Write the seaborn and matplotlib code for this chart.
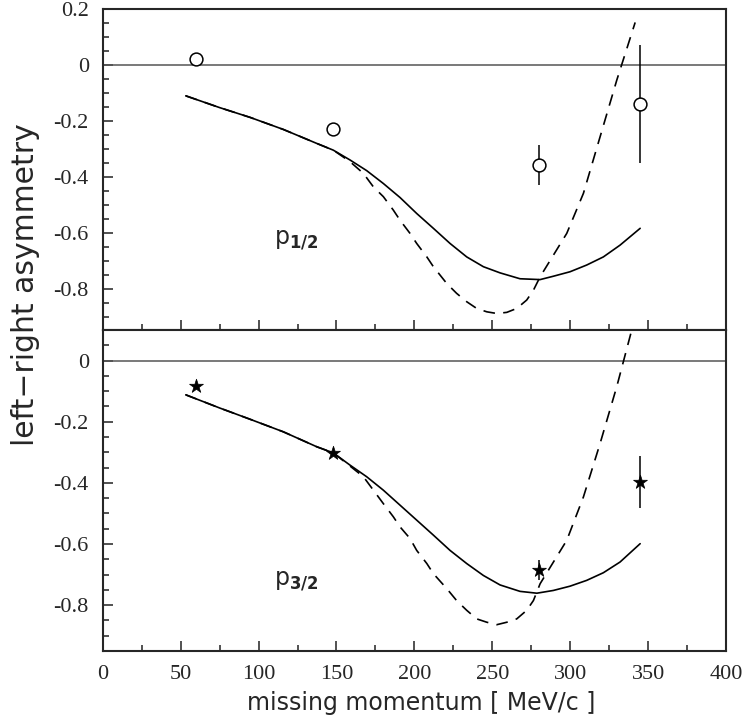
import numpy as np
import matplotlib
matplotlib.use("Agg")
import matplotlib.pyplot as plt
from matplotlib.ticker import MultipleLocator, FuncFormatter
import seaborn as sns

# p1/2 data (open circles)
p12_x = [60, 148, 280, 345]
p12_y = [0.02, -0.23, -0.357, -0.139]
p12_err = [0.0, 0.0, 0.07, 0.21]

# p3/2 data (stars)
p32_x = [60, 148, 280, 345]
p32_y = [-0.082, -0.302, -0.686, -0.397]
p32_err = [0.0, 0.0, 0.033, 0.084]

# p1/2 curves
p12_solid_x = [53.3, 75, 94.6, 115.9, 137.4, 148, 158.7, 169.4, 180.1, 190.8, 201.5, 212.2, 222.9, 233.6,
               244.3, 255, 267.8, 280.7, 289.2, 299.9, 310.6, 321.3, 332, 344.9]
p12_solid_y = [-0.11, -0.152, -0.187, -0.230, -0.280, -0.304, -0.339, -0.377, -0.423, -0.473, -0.530, -0.583, -0.637, -0.685,
               -0.720, -0.742, -0.763, -0.766, -0.754, -0.738, -0.714, -0.685, -0.643, -0.583]
p12_dash_x = [53.3, 75, 94.6, 115.9, 137.4, 148, 158.7, 167.3, 173.7, 180.1, 186.5, 190.8, 197.2, 201.5, 208, 212.2,
              220.8, 227.1, 233.6, 240, 246.5, 252.9, 259.3, 265.7, 272.1, 276.4, 280.7, 297.8, 308.5, 319.2, 329.9, 341.7]
p12_dash_y = [-0.11, -0.152, -0.187, -0.230, -0.280, -0.304, -0.345, -0.387, -0.435, -0.470, -0.518, -0.554, -0.601, -0.637, -0.685, -0.720,
              -0.780, -0.815, -0.845, -0.869, -0.881, -0.887, -0.883, -0.869, -0.839, -0.804, -0.756, -0.601, -0.458, -0.256, -0.054, 0.152]

# p3/2 curves
p32_solid_x = [53.3, 75, 94.6, 115.9, 137.4, 148, 158.7, 169.4, 180.1, 190.8, 201.5, 212.2, 222.9, 233.6,
               244.3, 255, 267.8, 278.6, 289.2, 299.9, 310.6, 321.3, 332, 344.9]
p32_solid_y = [-0.112, -0.155, -0.192, -0.233, -0.282, -0.302, -0.342, -0.380, -0.424, -0.473, -0.522, -0.571, -0.621, -0.664,
               -0.703, -0.734, -0.755, -0.761, -0.752, -0.738, -0.719, -0.694, -0.659, -0.599]
p32_dash_x = [53.3, 75, 94.6, 115.9, 137.4, 148, 158.7, 167.3, 173.7, 180.1, 186.5, 190.8, 197.2, 201.5, 208, 212.2,
              220.8, 227.1, 233.6, 240, 246.5, 252.9, 259.3, 265.7, 272.1, 276.4, 280.7, 297.8, 308.5, 319.2, 329.9, 339.5, 345]
p32_dash_y = [-0.112, -0.155, -0.192, -0.233, -0.282, -0.302, -0.345, -0.380, -0.424, -0.468, -0.511, -0.544, -0.582, -0.621, -0.664, -0.697,
              -0.746, -0.785, -0.817, -0.845, -0.856, -0.864, -0.856, -0.845, -0.817, -0.785, -0.730, -0.588, -0.446, -0.271, -0.085, 0.10, 0.22]

sns.set_style("ticks")
plt.rcParams['font.family'] = ['DejaVu Sans']

fig = plt.figure(figsize=(7.45, 7.25), dpi=100)
ax1 = fig.add_axes([0.1379, 0.5448, 0.8366, 0.4428])
ax2 = fig.add_axes([0.1379, 0.1021, 0.8366, 0.4427])


def fmt(v, pos):
    if abs(v) < 1e-9:
        return "0"
    return f"{v:.1f}"


def style(ax, ylim, show_xlabels):
    ax.set_xlim(0, 400)
    ax.set_ylim(*ylim)
    ax.axhline(0, color="#555555", lw=1.1, zorder=1)
    ax.xaxis.set_major_locator(MultipleLocator(50))
    ax.xaxis.set_minor_locator(MultipleLocator(25))
    ax.yaxis.set_major_locator(MultipleLocator(0.2))
    ax.yaxis.set_minor_locator(MultipleLocator(0.05))
    ax.yaxis.set_major_formatter(FuncFormatter(fmt))
    ax.tick_params(which="both", direction="in", top=False, right=False, width=1.2, color="#333333")
    ax.tick_params(which="major", length=7)
    ax.tick_params(which="minor", length=4)
    ax.tick_params(labelsize=16, pad=10)
    for lab in ax.get_xticklabels() + ax.get_yticklabels():
        lab.set_family("Liberation Serif")
    if not show_xlabels:
        ax.tick_params(axis="x", labelbottom=False)
    for s in ax.spines.values():
        s.set_linewidth(1.5)
        s.set_visible(True)
    ax.set_xlabel("")
    ax.set_ylabel("")


dash = (0, (7, 5))

# top panel
sns.lineplot(x=p12_solid_x, y=p12_solid_y, ax=ax1, color="black", lw=1.2, sort=False)
sns.lineplot(x=p12_dash_x, y=p12_dash_y, ax=ax1, color="black", lw=1.2, sort=False, linestyle=dash)
ax1.errorbar(p12_x, p12_y, yerr=p12_err, fmt="none", ecolor="black", elinewidth=1.1, capsize=0)
sns.scatterplot(x=p12_x, y=p12_y, ax=ax1, marker="o", s=85, facecolor="white", edgecolor="black",
                linewidth=1.1, zorder=5)
ax1.text(110, -0.64, r"p$_{\mathbf{1/2}}$", fontsize=17)
style(ax1, (-0.946, 0.2), False)

# bottom panel
sns.lineplot(x=p32_solid_x, y=p32_solid_y, ax=ax2, color="black", lw=1.2, sort=False)
sns.lineplot(x=p32_dash_x, y=p32_dash_y, ax=ax2, color="black", lw=1.2, sort=False, linestyle=dash)
ax2.errorbar(p32_x, p32_y, yerr=p32_err, fmt="none", ecolor="black", elinewidth=1.1, capsize=0)
sns.scatterplot(x=p32_x, y=p32_y, ax=ax2, marker="*", s=110, color="black", edgecolor="black",
                linewidth=0.5, zorder=5)
ax2.text(110, -0.735, r"p$_{\mathbf{3/2}}$", fontsize=17)
style(ax2, (-0.95, 0.1), True)
ax2.set_yticks([0, -0.2, -0.4, -0.6, -0.8])
ax2.yaxis.set_minor_locator(MultipleLocator(0.05))

fig.text(0.566, 0.021, "missing momentum [ MeV/c ]", ha="center", va="baseline", fontsize=17)
fig.text(0.034, 0.607, "left\u2212right asymmetry", ha="center", va="center", rotation=90, fontsize=21.5)

fig.savefig("out.png", dpi=100)
